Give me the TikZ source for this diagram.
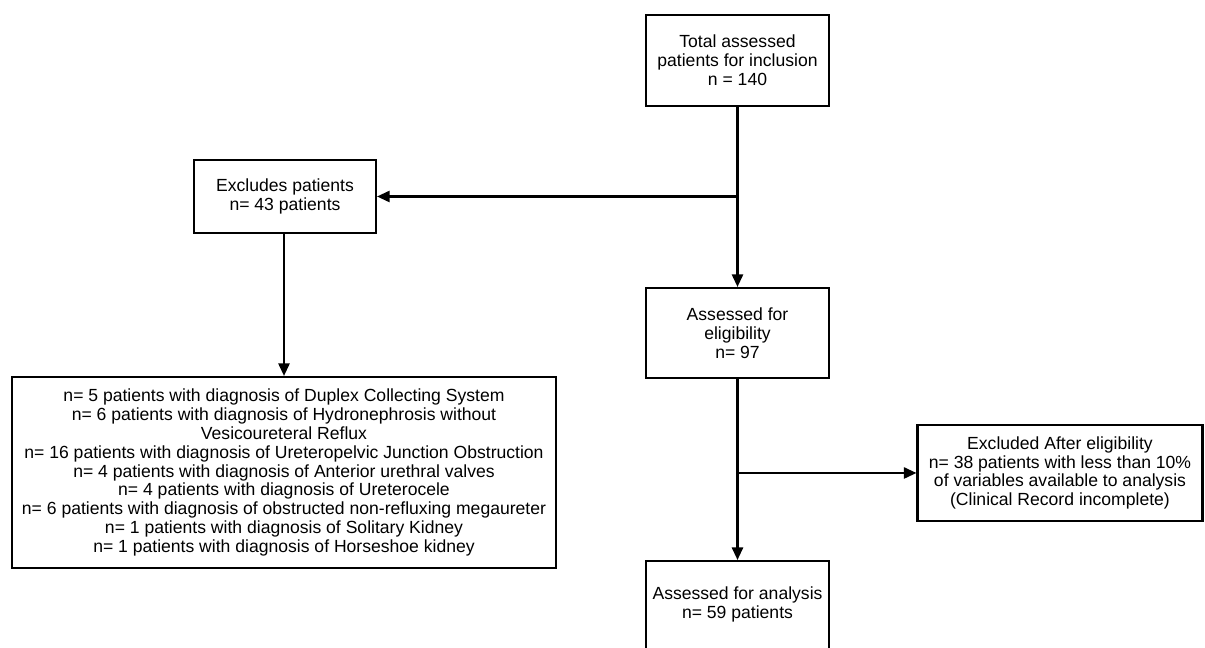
\documentclass[tikz,border=0pt]{standalone}
\usepackage{fontspec}
\setmainfont{Liberation Sans}
\usetikzlibrary{arrows.meta}
\begin{document}
\begin{tikzpicture}[
        box/.style={draw, line width=1.5pt, align=center, inner sep=2pt,
            font=\fontsize{12.5}{13.4}\selectfont},
        flow/.style={draw, line width=1.5pt, -{Triangle[length=9pt, width=8pt]}}
    ]
        \useasboundingbox (0,0) rectangle (30.125,16.2);

        \node[box, minimum width=4.575cm, minimum height=2.275cm] (total) at (18.4375,14.6875)
            {Total assessed\\patients for inclusion\\n = 140};
        \node[box, minimum width=4.55cm, minimum height=1.825cm] (excl) at (7.125,11.2875)
            {Excludes patients\\n= 43 patients};
        \node[box, minimum width=13.6cm, minimum height=4.775cm] (diag) at (7.1,4.3875)
            {n= 5 patients with diagnosis of Duplex Collecting System\\
             n= 6 patients with diagnosis of Hydronephrosis without\\
             Vesicoureteral Reflux\\
             n= 16 patients with diagnosis of Ureteropelvic Junction Obstruction\\
             n= 4 patients with diagnosis of Anterior urethral valves\\
             n= 4 patients with diagnosis of Ureterocele\\
             n= 6 patients with diagnosis of obstructed non-refluxing megaureter\\
             n= 1 patients with diagnosis of Solitary Kidney\\
             n= 1 patients with diagnosis of Horseshoe kidney};
        \node[box, minimum width=4.575cm, minimum height=2.25cm] (elig) at (18.4375,7.875)
            {Assessed for\\eligibility\\n= 97};
        \node[box, minimum width=7.125cm, minimum height=2.4cm] (after) at (26.5,4.375)
            {Excluded After eligibility\\n= 38 patients with less than 10\%\\
             of variables available to analysis\\(Clinical Record incomplete)};
        \node[box, minimum width=4.575cm, inner ysep=0.65cm, text depth=1cm, anchor=north] (anal) at (18.4375,2.2)
            {Assessed for analysis\\n= 59 patients};

        % split points on the main line
        \coordinate (split1) at (total.south |- excl.east);
        \coordinate (split2) at (elig.south |- after.west);

        \draw[flow] (total) -- (elig);
        \draw[flow] (split1) -- (excl);
        \draw[flow] (excl.south -| diag.north) -- (diag);
        \draw[flow] (elig) -- (anal);
        \draw[flow] (split2) -- (after);
    \end{tikzpicture}
\end{document}
